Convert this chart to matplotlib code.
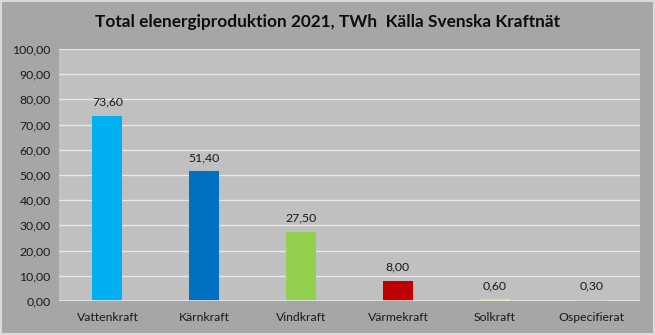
import matplotlib
matplotlib.use("Agg")
import matplotlib.pyplot as plt
from matplotlib.patches import Rectangle

categories = ["Vattenkraft", "Kärnkraft", "Vindkraft", "Värmekraft", "Solkraft", "Ospecifierat"]
values = [73.60, 51.40, 27.50, 8.00, 0.60, 0.30]
colors = ["#00b0f0", "#0070c0", "#92d050", "#c00000", "#e8e84a", "#7f7f7f"]
yticks = [0, 10, 20, 30, 40, 50, 60, 70, 80, 90, 100]

def fmt(v):
    return f"{v:.2f}".replace(".", ",")

plt.rcParams['font.family'] = ['Lato', 'DejaVu Sans']
fig = plt.figure(figsize=(6.55, 3.35), dpi=100)
fig.patch.set_facecolor("#a6a6a6")
fig.patches.append(Rectangle((0.002, 0.004), 0.996, 0.992, transform=fig.transFigure,
                             fill=False, edgecolor="#d9d9d9", linewidth=1.5))

ax = fig.add_axes([59/655, 1 - 301/335, (640-59)/655, (301-49)/335])
ax.set_facecolor("#c0c0c0")
x = list(range(len(categories)))
ax.bar(x, values, width=0.31, color=colors, zorder=3)
ax.set_xlim(-0.5, len(categories) - 0.5)
ax.set_ylim(0, 100)
ax.set_yticks(yticks)
ax.set_yticklabels([fmt(v) for v in yticks], fontsize=8.8, color="#1a1a1a")
ax.set_xticks(x)
ax.set_xticklabels(categories, fontsize=8.8, color="#1a1a1a")
ax.tick_params(axis="both", length=0, pad=6)
ax.tick_params(axis="x", pad=8)
ax.grid(axis="y", color="#e8e8e8", linewidth=1, zorder=1)
for s in ax.spines.values():
    s.set_visible(False)
ax.axhline(0, color="#e8e8e8", linewidth=1.2, zorder=4)
for xi, v in zip(x, values):
    ax.annotate(fmt(v), (xi, v), xytext=(0, 6), textcoords="offset points",
                ha="center", va="bottom", fontsize=8.8, color="#1a1a1a")

fig.text(0.5, 1 - 22/335, "Total elenergiproduktion 2021, TWh  Källa Svenska Kraftnät",
         ha="center", va="center", fontsize=12.4, fontweight="bold", color="#0d0d0d")

fig.savefig("out.png", dpi=100, facecolor=fig.get_facecolor())
